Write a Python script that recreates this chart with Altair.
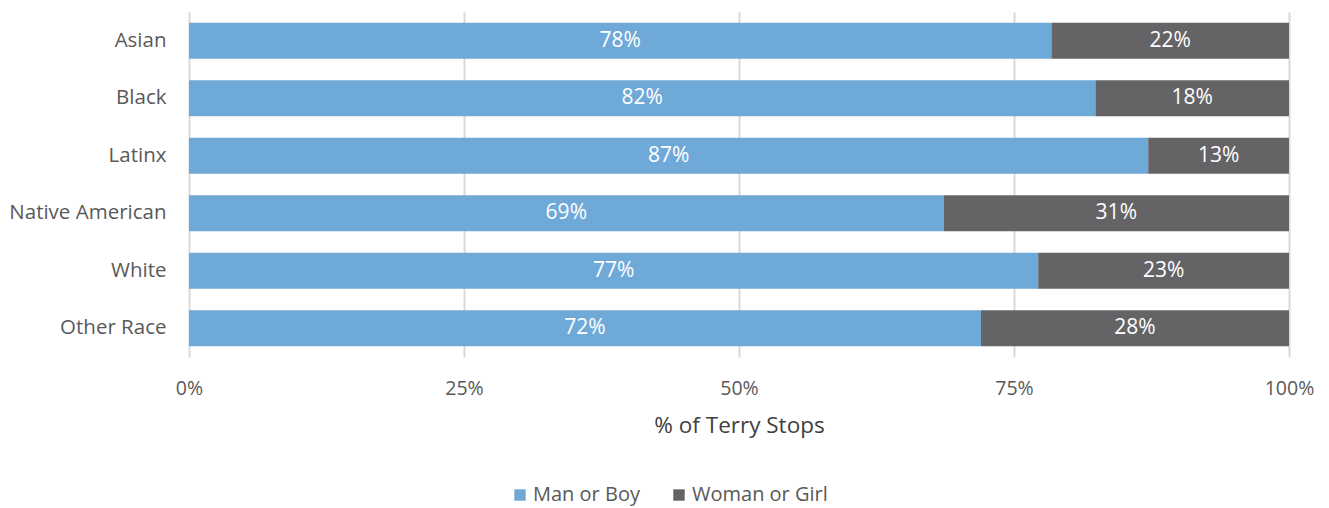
import altair as alt
import pandas as pd

races = ["Asian", "Black", "Latinx", "Native American", "White", "Other Race"]
man = [78.4, 82.4, 87.2, 68.6, 77.2, 72.0]
woman = [21.6, 17.6, 12.8, 31.4, 22.8, 28.0]
genders = ["Man or Boy", "Woman or Girl"]
colors = ["#6FA9D8", "#646466"]
ticks = [0, 25, 50, 75, 100]

rows = []
for r, m, w in zip(races, man, woman):
    rows.append({"race": r, "gender": genders[0], "share": m, "ord": 0})
    rows.append({"race": r, "gender": genders[1], "share": w, "ord": 1})
df = pd.DataFrame(rows)

FONT = "Open Sans"

base = alt.Chart(df).transform_stack(
    stack="share", as_=["x0", "x1"], groupby=["race"], sort=[alt.SortField("ord")]
).transform_calculate(
    mid="(datum.x0 + datum.x1) / 2",
    label="format(datum.share, '.0f') + '%'",
)

yenc = alt.Y(
    "race:N",
    sort=races,
    title=None,
    scale=alt.Scale(paddingInner=0.374, paddingOuter=0.187),
    axis=alt.Axis(labelFontSize=20.5, labelColor="#595959", ticks=False, domain=False,
                  labelPadding=23, labelFont=FONT),
)

bars = base.mark_bar().encode(
    x=alt.X("x0:Q", scale=alt.Scale(domain=[0, 100], nice=False),
            title="% of Terry Stops",
            axis=alt.Axis(values=ticks, labelExpr="datum.value + '%'", grid=True,
                          gridColor="#D9D9D9", gridWidth=2, domain=False, ticks=False,
                          labelFlush=False,
                          labelFontSize=19.5, labelColor="#595959", labelPadding=22,
                          titleFontSize=22.5, titleColor="#404040", titleFontWeight="normal",
                          titlePadding=17, labelFont=FONT, titleFont=FONT)),
    x2="x1:Q",
    y=yenc,
    color=alt.Color("gender:N", scale=alt.Scale(domain=genders, range=colors),
                    legend=alt.Legend(title=None, orient="none", direction="horizontal",
                                      legendX=321, legendY=473, symbolType="square",
                                      symbolSize=130, symbolStrokeWidth=0,
                                      labelFontSize=20, labelColor="#595959",
                                      labelOffset=3,
                                      labelFont=FONT, columnPadding=29, symbolOffset=0)),
    order=alt.Order("ord:Q"),
)

text = base.mark_text(color="white", fontSize=21, font=FONT).encode(
    x=alt.X("mid:Q"),
    y=alt.Y("race:N", sort=races),
    text="label:N",
)

chart = alt.layer(bars, text).properties(
    width=1100, height=345,
    autosize=alt.AutoSizeParams(type="none"),
    padding={"left": 181, "top": 4, "right": 30, "bottom": 150},
).configure_view(stroke=None)

chart.save("out.html", embed_options={"renderer": "svg", "actions": False})
